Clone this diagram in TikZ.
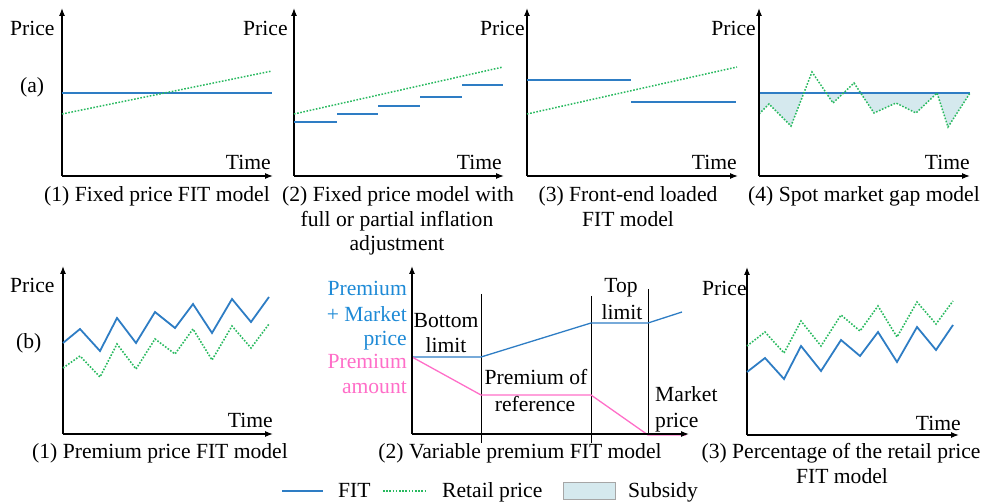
\documentclass[tikz,border=0pt]{standalone}
\usepackage{fontspec}
\setmainfont{Liberation Serif}
\newfontfamily\serifa{Liberation Serif}
\usetikzlibrary{arrows.meta}
\definecolor{fitblue}{RGB}{46,125,196}
\definecolor{txtblue}{RGB}{30,138,214}
\definecolor{retgreen}{RGB}{40,185,95}
\definecolor{pinkc}{RGB}{255,110,200}
\definecolor{subfill}{RGB}{213,233,238}
\newcommand\mytxt{\serifa\fontsize{21.6}{25}\selectfont}
\begin{document}
\begin{tikzpicture}[x=1pt,y=-1pt,
  every node/.style={inner sep=0pt,font=\mytxt},
  axis/.style={line width=1.2pt,-{Latex[length=8pt,width=6pt]}},
  fit/.style={fitblue,line width=1.3pt},
  fitz/.style={fitblue,line width=1.8pt,line join=miter},
  ret/.style={retgreen,line width=1.5pt,dash pattern=on 1.6pt off 1.6pt},
  retz/.style={retgreen,line width=1.6pt,dash pattern=on 1.6pt off 1.6pt},
  prem/.style={pinkc,line width=1.3pt},
  vline/.style={black,line width=1pt}]
\useasboundingbox (0,0) rectangle (984,502);

% ---------- (a)(1)
\coordinate (o1) at (62,176); \coordinate (y1) at (62,8); \coordinate (x1) at (273,176);
\draw[axis] (o1) -- (y1); \draw[axis] (o1) -- (x1);
\coordinate (f1a) at (62,93); \coordinate (f1b) at (272,93);
\draw[fit] (f1a) -- (f1b);
\coordinate (g1a) at (62,114); \coordinate (g1b) at (272,71);
\draw[ret] (g1a) -- (g1b);
\node[anchor=base west] (pa1) at (10,36) {Price};
\node[anchor=base west] (la) at (20,93) {(a)};
\node[anchor=base east] (ta1) at (271,170) {Time};
\node[anchor=base] (ca1) at (157,202) {(1) Fixed price FIT model};

% ---------- (a)(2)
\coordinate (o2) at (294,176); \coordinate (y2) at (294,8); \coordinate (x2) at (504,176);
\draw[axis] (o2) -- (y2); \draw[axis] (o2) -- (x2);
\draw[fit] (294,122) -- (337,122);
\draw[fit] (337,114) -- (378,114);
\draw[fit] (378,106) -- (420,106);
\draw[fit] (420,97) -- (462,97);
\draw[fit] (462,85) -- (503,85);
\coordinate (g2a) at (294,114); \coordinate (g2b) at (503,67);
\draw[ret] (g2a) -- (g2b);
\node[anchor=base west] (pa2) at (243,36) {Price};
\node[anchor=base east] (ta2) at (502,170) {Time};
\node[anchor=base] (ca2a) at (398,202) {(2) Fixed price model with};
\node[anchor=base] (ca2b) at (397,226.5) {full or partial inflation};
\node[anchor=base] (ca2c) at (397,251) {adjustment};

% ---------- (a)(3)
\coordinate (o3) at (527,176); \coordinate (y3) at (527,8); \coordinate (x3) at (738,176);
\draw[axis] (o3) -- (y3); \draw[axis] (o3) -- (x3);
\draw[fit] (527,80) -- (631,80);
\draw[fit] (631,102) -- (736,102);
\coordinate (g3a) at (527,114); \coordinate (g3b) at (737,67);
\draw[ret] (g3a) -- (g3b);
\node[anchor=base west] (pa3) at (480,36) {Price};
\node[anchor=base east] (ta3) at (737,170) {Time};
\node[anchor=base] (ca3a) at (628,202) {(3) Front-end loaded};
\node[anchor=base] (ca3b) at (628,226.5) {FIT model};

% ---------- (a)(4)
\coordinate (o4) at (759,176); \coordinate (y4) at (759,8); \coordinate (x4) at (970,176);
\begin{scope}
\clip (759,93) rectangle (971,140);
\fill[subfill] (759,93) -- (759,114) -- (769,104) -- (791,126) -- (812,72) -- (833,103) -- (854,83)
  -- (874,113) -- (896,103) -- (916,113) -- (937,93) -- (948,127) -- (970,93) -- cycle;
\end{scope}
\draw[fit] (759,93) -- (970,93);
\draw[ret] (759,114) -- (769,104) -- (791,126) -- (812,72) -- (833,103) -- (854,83)
  -- (874,113) -- (896,103) -- (916,113) -- (937,93) -- (948,127) -- (970,93);
\draw[axis] (o4) -- (y4); \draw[axis] (o4) -- (x4);
\node[anchor=base east] (pa4) at (756,36) {Price};
\node[anchor=base east] (ta4) at (970,170) {Time};
\node[anchor=base] (ca4) at (864,202) {(4) Spot market gap model};

% ---------- (b)(1)
\coordinate (o5) at (63,434); \coordinate (y5) at (63,266); \coordinate (x5) at (273,434);
\draw[axis] (o5) -- (y5); \draw[axis] (o5) -- (x5);
\draw[fitz] (63,343) -- (80,329) -- (100,351) -- (117,318) -- (136,343) -- (155,312) -- (175,328)
  -- (193,304) -- (212,333) -- (232,299) -- (251,322) -- (269,297);
\draw[retz] (63,368) -- (80,356) -- (100,377) -- (117,344) -- (136,369) -- (155,339) -- (175,354)
  -- (193,329) -- (212,360) -- (232,326) -- (251,348) -- (269,324);
\node[anchor=base west] (pb1) at (10,293) {Price};
\node[anchor=base west] (lb) at (16,348) {(b)};
\node[anchor=base east] (tb1) at (273,427) {Time};
\node[anchor=base] (cb1) at (160,458) {(1) Premium price FIT model};

% ---------- (b)(2)
\coordinate (o6) at (412,434); \coordinate (y6) at (412,266); \coordinate (x6) at (689,434);
\draw[vline] (481,294) -- (481,443);
\draw[vline] (591,296) -- (591,443);
\draw[vline] (648,289) -- (648,435);
\draw[fit] (412,357) -- (481,357) -- (591,323) -- (648,323) -- (682,312);
\draw[prem] (412,357) -- (481,395) -- (591,395) -- (648,435) -- (686,435);
\draw[axis] (o6) -- (y6); \draw[axis] (o6) -- (x6);
\node[anchor=base east,text=txtblue] (pm1) at (407,296) {Premium};
\node[anchor=base east,text=txtblue] (pm2) at (407,321) {+ Market};
\node[anchor=base east,text=txtblue] (pm3) at (407,345.5) {price};
\node[anchor=base east,text=pinkc] (pa) at (407,368) {Premium};
\node[anchor=base east,text=pinkc] (pb) at (407,393) {amount};
\node[anchor=base] (bl1) at (446,327) {Bottom};
\node[anchor=base] (bl2) at (446,352) {limit};
\node[anchor=base] (pr1) at (536,384) {Premium of};
\node[anchor=base] (pr2) at (535,411) {reference};
\node[anchor=base] (tl1) at (621,293) {Top};
\node[anchor=base] (tl2) at (622,319) {limit};
\node[anchor=base west] (mk1) at (655,401) {Market};
\node[anchor=base west] (mk2) at (655,427) {price};
\node[anchor=base] (cb2) at (520,458) {(2) Variable premium FIT model};

% ---------- (b)(3)
\coordinate (o7) at (747,435); \coordinate (y7) at (747,267); \coordinate (x7) at (959,435);
\draw[axis] (o7) -- (y7); \draw[axis] (o7) -- (x7);
\draw[fitz] (747,372) -- (765,358) -- (784,379) -- (801,346) -- (821,371) -- (841,340) -- (860,356)
  -- (878,332) -- (897,362) -- (917,327) -- (936,350) -- (953,325);
\draw[retz] (747,346) -- (765,332) -- (784,353) -- (801,321) -- (821,346) -- (841,315) -- (860,331)
  -- (878,306) -- (897,337) -- (917,302) -- (936,324) -- (953,301);
\node[anchor=base west] (pb3) at (702,295) {Price};
\node[anchor=base east] (tb3) at (961,430) {Time};
\node[anchor=base] (cb3a) at (841,458) {(3) Percentage of the retail price};
\node[anchor=base] (cb3b) at (842,483) {FIT model};

% ---------- legend
\coordinate (lf1) at (282,491); \coordinate (lf2) at (323,491);
\draw[fit] (lf1) -- (lf2);
\node[anchor=base west] (lgf) at (338,497) {FIT};
\coordinate (lr1) at (383,491); \coordinate (lr2) at (426,491);
\draw[ret] (lr1) -- (lr2);
\node[anchor=base west] (lgr) at (442,497) {Retail price};
\draw[fill=subfill,draw=black!35,line width=1pt] (563,482) rectangle (615,499);
\node[anchor=base west] (lgs) at (628,497) {Subsidy};
\end{tikzpicture}
\end{document}
